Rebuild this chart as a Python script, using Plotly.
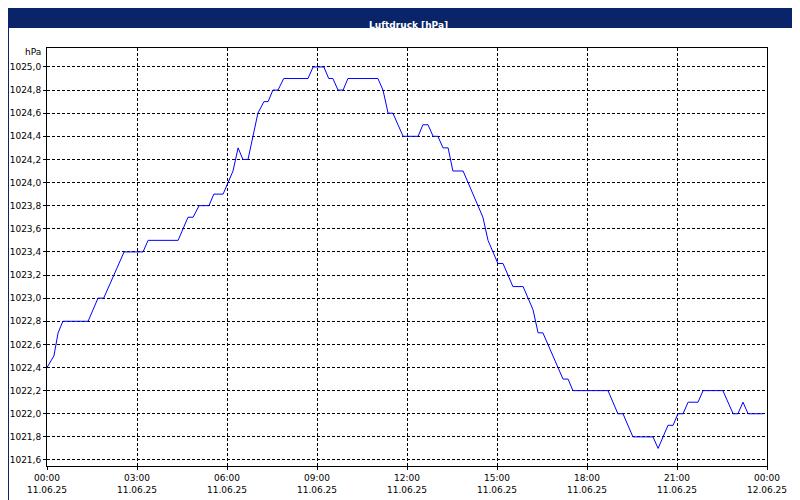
import plotly.graph_objects as go

hours = [0, 0.23, 0.37, 0.53, 1.37, 1.7, 1.89, 2.57, 3.2, 3.37, 4.37, 4.7, 4.87, 5.07, 5.4, 5.56, 5.87,
         6.2, 6.37, 6.53, 6.7, 7.03, 7.23, 7.37, 7.53, 7.7, 7.89, 8.7, 8.87, 9.23, 9.39, 9.53, 9.7, 9.87,
         10.03, 11.03, 11.2, 11.37, 11.53, 11.87, 12.37, 12.53, 12.7, 12.87, 13.03, 13.2, 13.37, 13.53,
         13.87, 14.53, 14.7, 15.03, 15.2, 15.53, 15.87, 16.2, 16.37, 16.53, 17.2, 17.37, 17.53, 18.7,
         19.03, 19.2, 19.53, 20.2, 20.37, 20.7, 20.87, 21.03, 21.2, 21.37, 21.7, 21.87, 22.53, 22.87,
         23.03, 23.2, 23.37, 23.87]
pressure = [1022.4, 1022.5, 1022.7, 1022.8, 1022.8, 1023.0, 1023.0, 1023.4, 1023.4, 1023.5, 1023.5,
            1023.7, 1023.7, 1023.8, 1023.8, 1023.9, 1023.9, 1024.1, 1024.3, 1024.2, 1024.2, 1024.6,
            1024.7, 1024.7, 1024.8, 1024.8, 1024.9, 1024.9, 1025.0, 1025.0, 1024.9, 1024.9, 1024.8,
            1024.8, 1024.9, 1024.9, 1024.8, 1024.6, 1024.6, 1024.4, 1024.4, 1024.5, 1024.5, 1024.4,
            1024.4, 1024.3, 1024.3, 1024.1, 1024.1, 1023.7, 1023.5, 1023.3, 1023.3, 1023.1, 1023.1,
            1022.9, 1022.7, 1022.7, 1022.3, 1022.3, 1022.2, 1022.2, 1022.0, 1022.0, 1021.8, 1021.8,
            1021.7, 1021.9, 1021.9, 1022.0, 1022.0, 1022.1, 1022.1, 1022.2, 1022.2, 1022.0, 1022.0,
            1022.1, 1022.0, 1022.0]

x_ticks = [0, 3, 6, 9, 12, 15, 18, 21, 24]
x_labels = ["00:00<br>11.06.25", "03:00<br>11.06.25", "06:00<br>11.06.25", "09:00<br>11.06.25",
            "12:00<br>11.06.25", "15:00<br>11.06.25", "18:00<br>11.06.25", "21:00<br>11.06.25",
            "00:00<br>12.06.25"]
y_ticks = [round(1021.6 + 0.2 * i, 1) for i in range(18)]
y_labels = [f"{v:.1f}".replace(".", ",") for v in y_ticks]

fig = go.Figure(go.Scatter(x=hours, y=pressure, mode="lines",
                           line=dict(color="#0000ff", width=1), hoverinfo="skip"))

axis_common = dict(showgrid=True, gridcolor="black", griddash="3px,2px", gridwidth=1,
                   showline=True, linecolor="black", mirror=True, zeroline=False,
                   ticks="outside", ticklen=3, tickcolor="black", automargin=False,
                   tickfont=dict(family="DejaVu Sans", size=9, color="black"))
fig.update_xaxes(range=[0, 24], tickvals=x_ticks, ticktext=x_labels, **axis_common)
fig.update_yaxes(range=[1021.548, 1025.164], tickvals=y_ticks, ticktext=y_labels, **axis_common)

fig.update_layout(
    width=800, height=500, showlegend=False,
    paper_bgcolor="white", plot_bgcolor="white",
    margin=dict(l=39, r=41, t=40, b=42, autoexpand=False),
    shapes=[
        dict(type="rect", xref="paper", yref="paper", x0=-39/720, x1=761/720,
             y0=1 + 20/418, y1=1 + 40/418, fillcolor="#0a246a", line=dict(width=0), layer="below"),
        dict(type="rect", xref="paper", yref="paper", x0=-38.5/720, x1=760.5/720,
             y0=-41.5/418, y1=1 + 39.5/418, line=dict(color="#0a246a", width=1)),
    ],
    annotations=[
        dict(text="<b>Luftdruck [hPa]</b>", xref="paper", yref="paper", x=361/720, y=1 + 30/418,
             showarrow=False, font=dict(family="DejaVu Sans", size=9, color="white")),
        dict(text="hPa", xref="paper", yref="paper", x=-4/720, y=1 - 4/418, xanchor="right",
             yanchor="middle", showarrow=False, font=dict(family="DejaVu Sans", size=9, color="black")),
    ],
)
fig.write_html("out.html")
